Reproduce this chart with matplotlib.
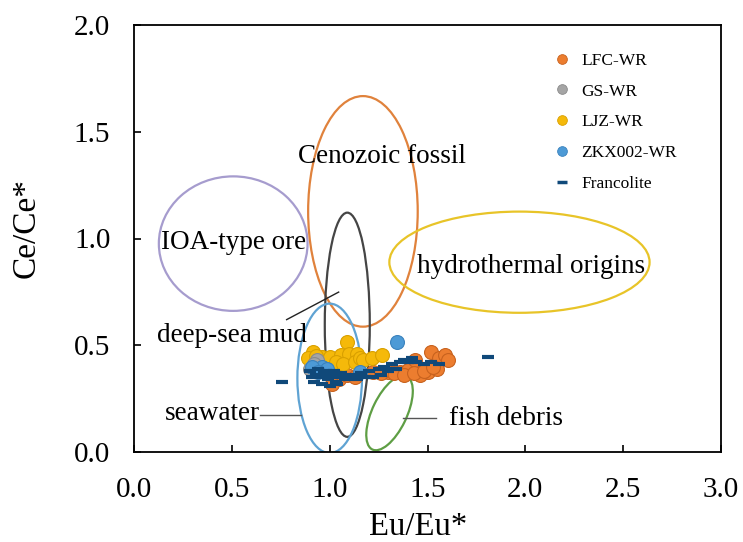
import matplotlib
matplotlib.use("Agg")
import matplotlib.pyplot as plt
from matplotlib.patches import Ellipse
from matplotlib.lines import Line2D

plt.rcParams['font.family'] = ['Liberation Serif', 'DejaVu Serif']

# ---- data ----
lfc_x = [1.06, 1.05, 1.01, 1.09, 1.22, 1.30, 1.36, 1.40, 1.45, 1.50, 1.46, 1.55,
         1.435, 1.52, 1.56, 1.59, 1.605, 1.33, 1.38, 1.43, 1.48, 1.53, 1.13, 1.26]
lfc_y = [0.39, 0.34, 0.32, 0.36, 0.375, 0.375, 0.375, 0.384, 0.375, 0.375, 0.36, 0.39,
         0.43, 0.47, 0.44, 0.455, 0.43, 0.37, 0.36, 0.37, 0.38, 0.40, 0.35, 0.37]

gs_x = [0.935, 0.90, 0.92]
gs_y = [0.43, 0.39, 0.41]

ljz_x = [0.915, 0.89, 0.96, 1.00, 1.06, 1.09, 1.10, 1.14, 1.03, 1.07, 1.13, 1.155,
         1.17, 1.215, 1.27, 0.93]
ljz_y = [0.47, 0.44, 0.445, 0.445, 0.455, 0.515, 0.46, 0.46, 0.42, 0.41, 0.42, 0.44,
         0.43, 0.44, 0.455, 0.45]

zkx_x = [1.345, 1.155, 0.96, 0.91, 0.985, 0.94]
zkx_y = [0.515, 0.375, 0.40, 0.40, 0.39, 0.375]

fr_x = [0.90, 0.93, 0.95, 0.97, 0.99, 1.01, 1.03, 1.05, 0.92, 0.96, 1.00, 1.04,
        1.08, 1.10, 1.12, 0.94, 0.98, 1.02, 1.06, 0.91, 1.14, 1.18, 1.22, 1.26,
        1.16, 1.20, 1.25, 1.28, 1.32, 1.36, 1.40, 1.44, 1.48, 1.52, 1.56, 1.30,
        1.34, 1.38, 1.42, 0.755, 1.81]
fr_y = [0.38, 0.36, 0.35, 0.37, 0.34, 0.36, 0.33, 0.35, 0.33, 0.32, 0.31, 0.32,
        0.34, 0.36, 0.35, 0.39, 0.38, 0.38, 0.37, 0.35, 0.34, 0.35, 0.35, 0.36,
        0.37, 0.38, 0.39, 0.40, 0.41, 0.42, 0.42, 0.42, 0.41, 0.42, 0.41, 0.38,
        0.39, 0.43, 0.44, 0.33, 0.445]

series_labels = ['LFC-WR', 'GS-WR', 'LJZ-WR', 'ZKX002-WR', 'Francolite']

# field ellipses: (label, cx, cy, width, height, angle, color)
fields = [
    ('IOA-type ore', 0.507, 0.976, 0.76, 0.63, 0, '#a69cce'),
    ('Cenozoic fossil', 1.17, 1.127, 0.56, 1.08, 0, '#e0823c'),
    ('deep-sea mud', 1.09, 0.596, 0.23, 1.05, 0, '#454545'),
    ('seawater', 1.0, 0.345, 0.33, 0.70, 0, '#5fa3d3'),
    ('hydrothermal origins', 1.97, 0.889, 1.33, 0.474, 0, '#e8c428'),
    ('fish debris', 1.306, 0.183, 0.385, 0.175, 62, '#5e9e44'),
]

fig = plt.figure(figsize=(7.43, 5.42), dpi=100)
ax = fig.add_axes([134/743, 1-452/542, 587/743, 427/542])

for name, cx, cy, w, h, ang, col in fields:
    ax.add_patch(Ellipse((cx, cy), w, h, angle=ang, fill=False, edgecolor=col, lw=1.6, zorder=2))

fs = 19.5
ax.text(1.265, 1.385, 'Cenozoic fossil', fontsize=fs, ha='center', va='center', zorder=3)
ax.text(0.51, 0.98, 'IOA-type ore', fontsize=fs, ha='center', va='center', zorder=3)
ax.text(2.03, 0.87, 'hydrothermal origins', fontsize=fs, ha='center', va='center', zorder=3)
ax.text(0.50, 0.545, 'deep-sea mud', fontsize=fs, ha='center', va='center', zorder=3)
ax.text(0.40, 0.18, 'seawater', fontsize=fs, ha='center', va='center', zorder=3)
ax.text(1.90, 0.155, 'fish debris', fontsize=fs, ha='center', va='center', zorder=3)

# leader lines
ax.plot([0.78, 1.046], [0.62, 0.749], color='#222222', lw=1.0, zorder=3)
ax.plot([0.646, 0.852], [0.175, 0.175], color='#555555', lw=1.0, zorder=3)
ax.plot([1.373, 1.542], [0.159, 0.159], color='#555555', lw=1.0, zorder=3)

ms = 10
ax.plot(lfc_x, lfc_y, 'o', ms=ms, mfc='#ec7d2f', mec='#c8621e', mew=0.8, zorder=4, label=series_labels[0])
ax.plot(gs_x, gs_y, 'o', ms=ms, mfc='#a5a5a5', mec='#8a8a8a', mew=0.8, zorder=5, label=series_labels[1])
ax.plot(ljz_x, ljz_y, 'o', ms=ms, mfc='#f5b90a', mec='#d9a000', mew=0.8, zorder=4.5, label=series_labels[2])
ax.plot(zkx_x, zkx_y, 'o', ms=ms, mfc='#4d9ad6', mec='#3a82bd', mew=0.8, zorder=5.5, label=series_labels[3])
ax.plot(fr_x, fr_y, '_', ms=8, mec='#10497a', mew=3.0, zorder=6, label=series_labels[4])

ax.set_xlim(0, 3)
ax.set_ylim(0, 2)
ax.set_xticks([0, 0.5, 1.0, 1.5, 2.0, 2.5, 3.0])
ax.set_yticks([0, 0.5, 1.0, 1.5, 2.0])
ax.set_xticklabels(['0.0', '0.5', '1.0', '1.5', '2.0', '2.5', '3.0'])
ax.set_yticklabels(['0.0', '0.5', '1.0', '1.5', '2.0'])
ax.tick_params(direction='in', length=5, width=1.2, labelsize=21)
ax.tick_params(axis='x', pad=18)
ax.tick_params(axis='y', pad=17)
for s in ax.spines.values():
    s.set_linewidth(1.3)

ax.set_xlabel('Eu/Eu*', fontsize=23.5)
ax.set_ylabel('Ce/Ce*', fontsize=24)
ax.xaxis.set_label_coords(0.484, -0.14)
ax.yaxis.set_label_coords(-0.158, 0.525)

handles = [
    Line2D([], [], ls='none', marker='o', ms=7, mfc='#ec7d2f', mec='#c8621e', mew=0.6),
    Line2D([], [], ls='none', marker='o', ms=7, mfc='#a5a5a5', mec='#8a8a8a', mew=0.6),
    Line2D([], [], ls='none', marker='o', ms=7, mfc='#f5b90a', mec='#d9a000', mew=0.6),
    Line2D([], [], ls='none', marker='o', ms=7, mfc='#4d9ad6', mec='#3a82bd', mew=0.6),
    Line2D([], [], ls='none', marker='_', ms=7, mec='#10497a', mew=2.5),
]
ax.legend(handles, series_labels, loc='upper left', bbox_to_anchor=(0.703, 0.952),
          frameon=False, fontsize=12.5, labelspacing=0.85, handlelength=1.0,
          handletextpad=0.6, borderaxespad=0)

fig.savefig('out.png', dpi=100)
